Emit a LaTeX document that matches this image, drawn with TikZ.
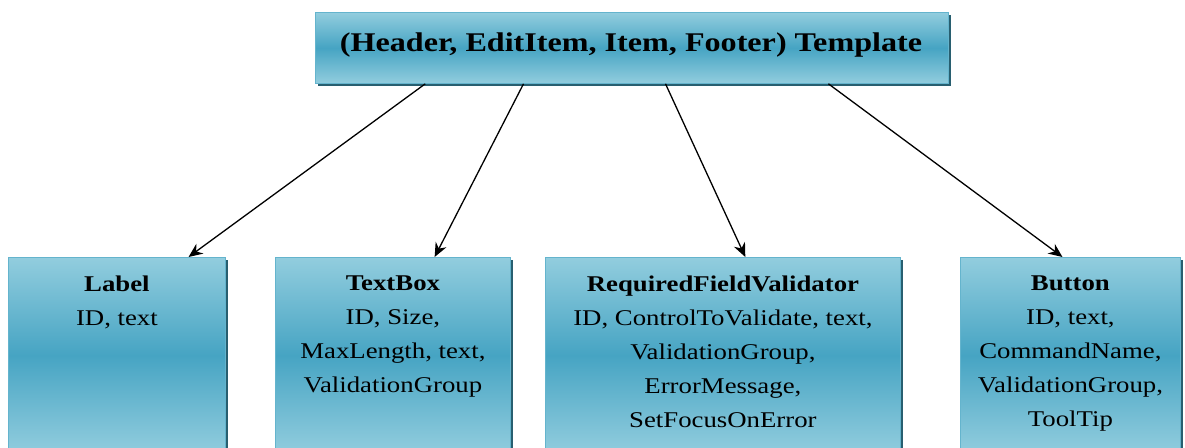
\documentclass[tikz,border=0pt]{standalone}
\usepackage{fontspec}
\setmainfont[FakeStretch=1.19]{Liberation Serif}
\usetikzlibrary{arrows.meta,calc,shadows}

\definecolor{boxlight}{RGB}{146,205,222}
\definecolor{boxdark}{RGB}{70,164,195}
\definecolor{boxedge}{RGB}{100,180,205}
\definecolor{boxshadow}{RGB}{40,95,112}

\tikzset{
  x=1pt, y=-1pt,
  panel/.style={
    draw=boxedge, line width=0.8pt,
    top color=boxlight, bottom color=boxlight, middle color=boxdark,
    drop shadow={shadow xshift=3pt, shadow yshift=-3pt, fill=boxshadow, opacity=1},
    inner sep=0pt, anchor=north west
  },
  caption/.style={align=center, anchor=north, inner sep=0pt,
    font=\fontsize{22.5}{34}\selectfont, text=black},
  link/.style={line width=1.3pt, -{Stealth[length=14pt,width=12pt]}}
}

\begin{document}
\begin{tikzpicture}
  \useasboundingbox (0,0) rectangle (1185,447);
  \fill[white] (0,0) rectangle (1185,447);
  \clip (0,0) rectangle (1185,447);

  % header template box
  \node[panel, minimum width=633pt, minimum height=71pt] (tpl) at (315,12) {};
  \node[font=\bfseries\fontsize{27}{30}\selectfont, inner sep=0pt] (tpltext) at (631,45)
    {(Header, EditItem, Item, Footer) Template};

  % control boxes
  \node[panel, minimum width=217pt, minimum height=196pt] (label) at (8,257) {};
  \node[panel, minimum width=235pt, minimum height=196pt] (textbox) at (275,257) {};
  \node[panel, minimum width=355pt, minimum height=196pt] (rfv) at (545,257) {};
  \node[panel, minimum width=220pt, minimum height=196pt] (button) at (960,257) {};

  \node[caption] (labeltext) at ($(label.north)+(0,19)$)
    {\textbf{Label}\\ID, text};
  \node[caption] (textboxtext) at ($(textbox.north)+(0,19)$)
    {\textbf{TextBox}\\ID, Size,\\MaxLength, text,\\ValidationGroup};
  \node[caption] (rfvtext) at ($(rfv.north)+(0,19)$)
    {\textbf{RequiredFieldValidator}\\ID, ControlToValidate, text,\\ValidationGroup,\\ErrorMessage,\\SetFocusOnError};
  \node[caption] (buttontext) at ($(button.north)+(0,19)$)
    {\textbf{Button}\\ID, text,\\CommandName,\\ValidationGroup,\\ToolTip};

  % connectors
  \draw[link] ($(tpl.south west)!0.174!(tpl.south east)$) -- ($(label.north west)!0.829!(label.north east)$);
  \draw[link] ($(tpl.south west)!0.329!(tpl.south east)$) -- ($(textbox.north west)!0.677!(textbox.north east)$);
  \draw[link] ($(tpl.south west)!0.553!(tpl.south east)$) -- ($(rfv.north west)!0.563!(rfv.north east)$);
  \draw[link] ($(tpl.south west)!0.810!(tpl.south east)$) -- ($(button.north west)!0.464!(button.north east)$);
\end{tikzpicture}
\end{document}
